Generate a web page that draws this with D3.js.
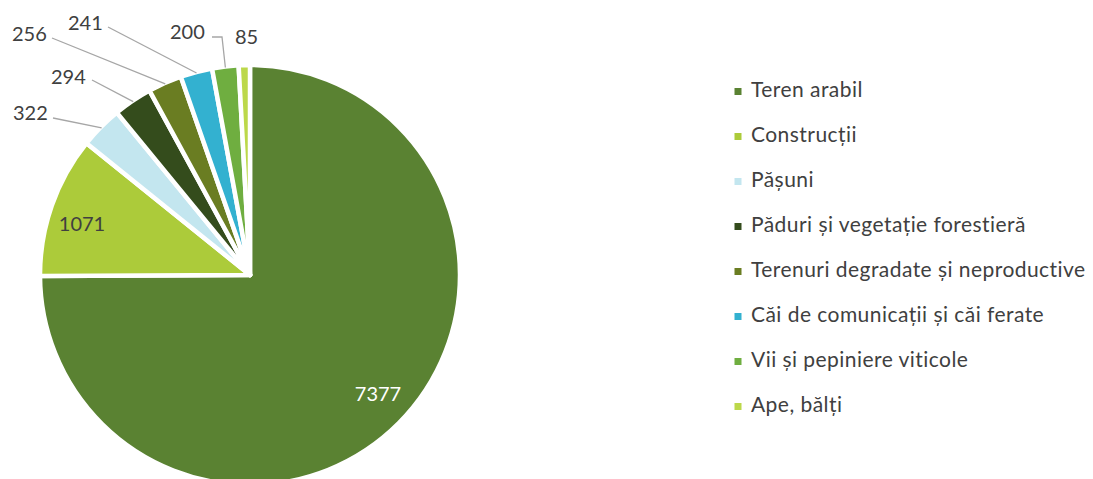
<!DOCTYPE html>
<html>
<head>
    <meta charset="utf-8">
    <title>Pie Chart - Folosinta terenurilor</title>
    <script src="https://d3js.org/d3.v7.min.js"></script>
    <style>
        body { margin: 0; background: #fff; }
        text { font-family: Lato, "Open Sans", sans-serif; }
    </style>
</head>
<body>
    <script>
        // Data
        const categories = ["Teren arabil", "Construcții", "Pășuni", "Păduri și vegetație forestieră",
            "Terenuri degradate și neproductive", "Căi de comunicații și căi ferate",
            "Vii și pepiniere viticole", "Ape, bălți"];
        const values = [7377, 1071, 322, 294, 256, 241, 200, 85];
        const colors = ["#5a8232", "#accb3a", "#c3e6ef", "#344c1c", "#6a7d22", "#33b1d0", "#6fae40", "#bcd84a"];

        // label placement (layout only): "in" = inside slice, otherwise text position + leader elbow
        const labelLayout = [
            {type: "in", x: 378, y: 401, fill: "#fff"},
            {type: "in", x: 82, y: 231, fill: "#404040"},
            {type: "out", x: 13, y: 120, elbow: [53, 118]},
            {type: "out", x: 51, y: 84, elbow: [92, 80]},
            {type: "out", x: 12, y: 41, elbow: [52, 38]},
            {type: "out", x: 68, y: 30, elbow: [108, 27]},
            {type: "out", x: 170, y: 39, elbow: [212, 37], elbow2: [222, 37]},
            {type: "out", x: 235, y: 44, elbow: null}
        ];

        const W = 1093, H = 479;
        const cx = 250, cy = 275, radius = 210;

        const svg = d3.select("body")
          .append("svg")
            .attr("width", W)
            .attr("height", H);

        const data = categories.map((c, i) => ({name: c, value: values[i], color: colors[i], lab: labelLayout[i]}));

        const pie = d3.pie()
            .sort(null)
            .value(d => d.value);

        const arc = d3.arc()
            .innerRadius(0)
            .outerRadius(radius);

        const g = svg.append("g")
            .attr("transform", `translate(${cx},${cy})`);

        const arcs = pie(data);

        // slices
        g.selectAll("path.slice")
          .data(arcs)
          .enter()
          .append("path")
            .attr("class", "slice")
            .attr("d", arc)
            .attr("fill", d => d.data.color)
            .attr("stroke", "#fff")
            .attr("stroke-width", 4.5)
            .attr("stroke-linejoin", "round");

        // leader lines for outside labels
        arcs.forEach(function(d) {
            const lab = d.data.lab;
            if (lab.type !== "out" || !lab.elbow) return;
            const mid = (d.startAngle + d.endAngle) / 2;
            const ex = cx + (radius - 1) * Math.sin(mid);
            const ey = cy - (radius - 1) * Math.cos(mid);
            const pts = [lab.elbow];
            if (lab.elbow2) pts.push(lab.elbow2);
            pts.push([ex, ey]);
            svg.append("path")
                .attr("d", d3.line()(pts))
                .attr("fill", "none")
                .attr("stroke", "#a6a6a6")
                .attr("stroke-width", 1.3);
        });

        // labels
        svg.selectAll("text.val")
          .data(arcs)
          .enter()
          .append("text")
            .attr("class", "val")
            .attr("x", d => d.data.lab.x)
            .attr("y", d => d.data.lab.y)
            .attr("text-anchor", d => d.data.lab.type === "in" ? "middle" : "start")
            .attr("fill", d => d.data.lab.fill || "#404040")
            .style("font-size", "20px")
            .text(d => d.data.value);

        // legend
        const legend = svg.append("g")
            .attr("transform", "translate(734, 97)");

        const rows = legend.selectAll("g.row")
          .data(data)
          .enter()
          .append("g")
            .attr("class", "row")
            .attr("transform", (d, i) => `translate(0, ${i * 45})`);

        rows.append("rect")
            .attr("x", 0.5)
            .attr("y", -9)
            .attr("width", 7)
            .attr("height", 7)
            .attr("fill", d => d.color);

        rows.append("text")
            .attr("x", 17)
            .attr("y", 0)
            .attr("fill", "#404040")
            .style("font-size", "21px")
            .style("letter-spacing", "0.45px")
            .text(d => d.name);
    </script>
</body>
</html>
